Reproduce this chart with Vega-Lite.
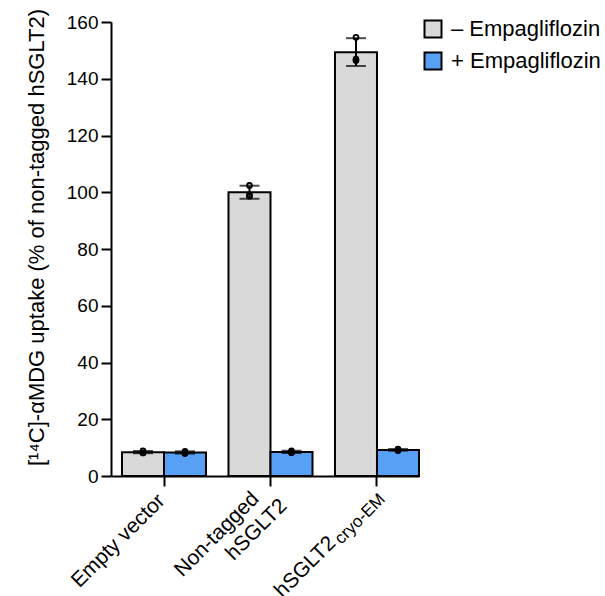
{
  "$schema": "https://vega.github.io/schema/vega-lite/v6.json",
  "width": 308,
  "height": 454,
  "autosize": {"type": "none"},
  "padding": {"left": 111, "top": 22, "right": 186, "bottom": 120},
  "config": {
    "font": "Liberation Sans",
    "view": {"stroke": null},
    "axis": {"domainColor": "black", "tickColor": "black", "labelColor": "black", "titleColor": "black", "domainWidth": 2, "tickWidth": 2, "grid": false}
  },
  "datasets": {
    "summary": [
      {"group": "Empty vector", "condition": "– Empagliflozin", "mean": 8.4, "lo": 8.0, "hi": 8.8},
      {"group": "Empty vector", "condition": "+ Empagliflozin", "mean": 8.3, "lo": 7.9, "hi": 8.7},
      {"group": "Non-tagged hSGLT2", "condition": "– Empagliflozin", "mean": 100.0, "lo": 97.7, "hi": 102.3},
      {"group": "Non-tagged hSGLT2", "condition": "+ Empagliflozin", "mean": 8.5, "lo": 8.1, "hi": 8.9},
      {"group": "hSGLT2 cryo-EM", "condition": "– Empagliflozin", "mean": 149.3, "lo": 144.5, "hi": 154.3},
      {"group": "hSGLT2 cryo-EM", "condition": "+ Empagliflozin", "mean": 9.2, "lo": 8.9, "hi": 9.5}
    ],
    "reps": [
      {"group": "Empty vector", "condition": "– Empagliflozin", "value": 8.9},
      {"group": "Empty vector", "condition": "– Empagliflozin", "value": 8.1},
      {"group": "Empty vector", "condition": "– Empagliflozin", "value": 8.2},
      {"group": "Empty vector", "condition": "+ Empagliflozin", "value": 8.7},
      {"group": "Empty vector", "condition": "+ Empagliflozin", "value": 7.9},
      {"group": "Empty vector", "condition": "+ Empagliflozin", "value": 8.3},
      {"group": "Non-tagged hSGLT2", "condition": "– Empagliflozin", "value": 102.4},
      {"group": "Non-tagged hSGLT2", "condition": "– Empagliflozin", "value": 98.6},
      {"group": "Non-tagged hSGLT2", "condition": "– Empagliflozin", "value": 99.0},
      {"group": "Non-tagged hSGLT2", "condition": "+ Empagliflozin", "value": 8.9},
      {"group": "Non-tagged hSGLT2", "condition": "+ Empagliflozin", "value": 8.2},
      {"group": "Non-tagged hSGLT2", "condition": "+ Empagliflozin", "value": 8.4},
      {"group": "hSGLT2 cryo-EM", "condition": "– Empagliflozin", "value": 154.6},
      {"group": "hSGLT2 cryo-EM", "condition": "– Empagliflozin", "value": 146.4},
      {"group": "hSGLT2 cryo-EM", "condition": "– Empagliflozin", "value": 146.9},
      {"group": "hSGLT2 cryo-EM", "condition": "+ Empagliflozin", "value": 9.5},
      {"group": "hSGLT2 cryo-EM", "condition": "+ Empagliflozin", "value": 9.0},
      {"group": "hSGLT2 cryo-EM", "condition": "+ Empagliflozin", "value": 9.1}
    ]
  },
  "encoding": {
    "x": {
      "field": "group", "type": "nominal",
      "sort": ["Empty vector", "Non-tagged hSGLT2", "hSGLT2 cryo-EM"],
      "scale": {"paddingInner": 0.211, "paddingOuter": 0.0516, "align": 1},
      "axis": {"title": null, "labels": false, "tickSize": 10}
    }
  },
  "layer": [
    {
      "data": {"name": "summary"},
      "mark": {"type": "bar", "stroke": "black", "strokeWidth": 2},
      "encoding": {
        "xOffset": {"field": "condition", "type": "nominal", "sort": ["– Empagliflozin", "+ Empagliflozin"], "scale": {"paddingInner": 0, "paddingOuter": 0}},
        "y": {
          "field": "mean", "type": "quantitative",
          "scale": {"domain": [0, 160], "nice": false},
          "axis": {
            "title": "[¹⁴C]-αMDG uptake (% of non-tagged hSGLT2)",
            "values": [0, 20, 40, 60, 80, 100, 120, 140, 160],
            "tickSize": 10, "labelFontSize": 19, "labelPadding": 3,
            "titleFontSize": 22, "titleFontWeight": "normal", "titlePadding": 18, "titleY": 215
          }
        },
        "color": {
          "field": "condition", "type": "nominal",
          "scale": {"domain": ["– Empagliflozin", "+ Empagliflozin"], "range": ["#d9d9d9", "#57a0f5"]},
          "legend": {
            "title": null, "orient": "none", "legendX": 311, "legendY": -4,
            "symbolType": "square", "symbolSize": 289, "symbolStrokeColor": "black", "symbolStrokeWidth": 2,
            "symbolOpacity": 1, "labelFontSize": 22, "labelColor": "black", "rowPadding": 6, "labelOffset": 7, "padding": 0
          }
        }
      }
    },
    {
      "data": {"name": "summary"},
      "mark": {"type": "rule", "color": "black", "strokeWidth": 2},
      "encoding": {
        "xOffset": {"field": "condition", "type": "nominal", "sort": ["– Empagliflozin", "+ Empagliflozin"]},
        "y": {"field": "lo", "type": "quantitative"},
        "y2": {"field": "hi"}
      }
    },
    {
      "data": {"name": "summary"},
      "mark": {"type": "tick", "color": "black", "size": 20, "thickness": 2},
      "encoding": {
        "xOffset": {"field": "condition", "type": "nominal", "sort": ["– Empagliflozin", "+ Empagliflozin"]},
        "y": {"field": "lo", "type": "quantitative"}
      }
    },
    {
      "data": {"name": "summary"},
      "mark": {"type": "tick", "color": "black", "size": 20, "thickness": 2},
      "encoding": {
        "xOffset": {"field": "condition", "type": "nominal", "sort": ["– Empagliflozin", "+ Empagliflozin"]},
        "y": {"field": "hi", "type": "quantitative"}
      }
    },
    {
      "data": {"name": "reps"},
      "mark": {"type": "point", "filled": false, "stroke": "black", "strokeWidth": 1.8, "size": 24, "opacity": 1},
      "encoding": {
        "xOffset": {"field": "condition", "type": "nominal", "sort": ["– Empagliflozin", "+ Empagliflozin"]},
        "y": {"field": "value", "type": "quantitative"}
      }
    },
    {
      "data": {"values": [{"group": "Empty vector", "text": "Empty vector"}]},
      "mark": {"type": "text", "angle": 315, "align": "right", "baseline": "top", "dx": -16.9, "dy": 2.8, "fontSize": 21, "color": "black"},
      "encoding": {"y": {"datum": 0, "type": "quantitative"}, "text": {"field": "text"}}
    },
    {
      "data": {"values": [{"group": "Non-tagged hSGLT2", "text": "Non-tagged"}]},
      "mark": {"type": "text", "angle": 315, "align": "right", "baseline": "top", "dx": -24.4, "dy": -7.4, "fontSize": 21, "color": "black"},
      "encoding": {"y": {"datum": 0, "type": "quantitative"}, "text": {"field": "text"}}
    },
    {
      "data": {"values": [{"group": "Non-tagged hSGLT2", "text": "hSGLT2"}]},
      "mark": {"type": "text", "angle": 315, "align": "right", "baseline": "top", "dx": -9.6, "dy": 17.3, "fontSize": 21, "color": "black"},
      "encoding": {"y": {"datum": 0, "type": "quantitative"}, "text": {"field": "text"}}
    },
    {
      "data": {"values": [{"group": "hSGLT2 cryo-EM", "text": "hSGLT2"}]},
      "mark": {"type": "text", "angle": 315, "align": "right", "baseline": "top", "dx": -76.7, "dy": 2.9, "fontSize": 21, "color": "black"},
      "encoding": {"y": {"datum": 0, "type": "quantitative"}, "text": {"field": "text"}}
    },
    {
      "data": {"values": [{"group": "hSGLT2 cryo-EM", "text": "cryo-EM"}]},
      "mark": {"type": "text", "angle": 315, "align": "right", "baseline": "top", "dx": -10.7, "dy": 10.6, "fontSize": 17, "color": "black"},
      "encoding": {"y": {"datum": 0, "type": "quantitative"}, "text": {"field": "text"}}
    }
  ]
}
